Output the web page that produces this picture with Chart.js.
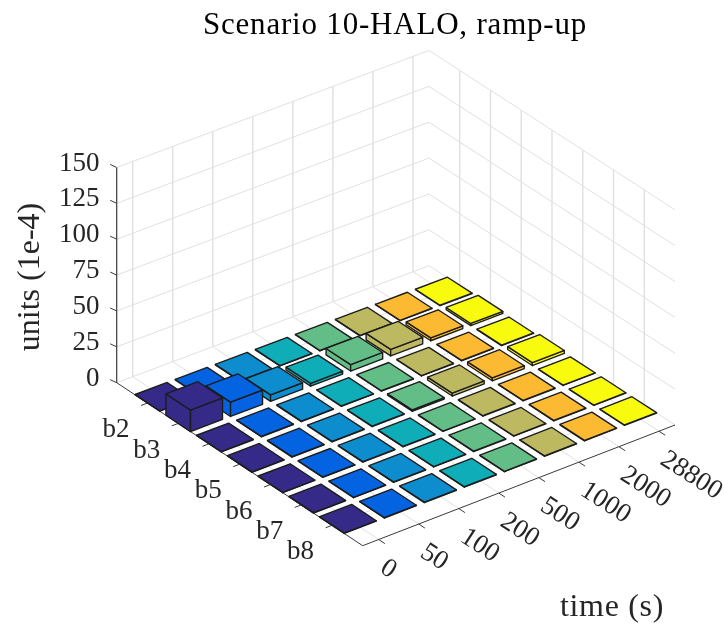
<!DOCTYPE html>
<html lang="en">
<head>
  <meta charset="UTF-8">
  <title>Scenario 10-HALO, ramp-up</title>
  <script src="https://cdn.jsdelivr.net/npm/chart.js"></script>
  <style>
    html, body { margin: 0; padding: 0; background: #ffffff; }
    canvas { display: block; }
  </style>
</head>
<body>
  <canvas id="chart" width="724" height="626"></canvas>

  <script>
  const timeLabels = ['0', '50', '100', '200', '500', '1000', '2000', '28800'];
  const binLabels = ['b2', 'b3', 'b4', 'b5', 'b6', 'b7', 'b8'];
  const unitTicks = [0, 25, 50, 75, 100, 125, 150];

  // one row per bin, one value per time
  const b2 = [0.3, 0.3, 0.3, 0.3, 0.3, 0.3, 0.3, 0.3];
  const b3 = [15, 10, 4.5, 2, 4.5, 4.5, 2, 1.5];
  const b4 = [0.3, 0.3, 0.3, 0.3, 0.3, 0.3, 0.3, 0.3];
  const b5 = [0.3, 0.3, 0.3, 0.3, 1, 2, 2, 2];
  const b6 = [0.3, 0.3, 0.3, 0.3, 0.3, 0.3, 0.3, 0.3];
  const b7 = [0.3, 0.3, 0.3, 0.3, 0.3, 0.3, 0.3, 0.3];
  const b8 = [0.3, 0.3, 0.3, 0.3, 0.3, 0.3, 0.3, 0.3];
  const rows = [b2, b3, b4, b5, b6, b7, b8];

  const timeColors = ['#352a87', '#0363e1', '#0d8cce', '#0fadb8', '#63bd87', '#bcb960', '#fcba33', '#f9fb0e'];

  // view of the 3d box, the four floor corners on the page
  const cornerLeft = [116.7, 382.7];
  const cornerBack = [429, 265.7];
  const cornerFront = [362.7, 545.7];
  const cornerRight = [675, 425];
  const unitPx = 1.435;
  const xMin = 0.6, xMax = 8.4, yMin = 1, yMax = 9, zMax = 150;

  function project(x, y, z) {
    const u = (x - xMin) / (xMax - xMin);
    const v = (y - yMin) / (yMax - yMin);
    const pick = k => (1 - u) * (1 - v) * cornerLeft[k] + (1 - u) * v * cornerFront[k]
      + u * (1 - v) * cornerBack[k] + u * v * cornerRight[k];
    return { x: pick(0), y: pick(1) - z * unitPx };
  }

  const datasets = [];

  function addLine(points, color, width) {
    datasets.push({
      data: points, showLine: true, fill: false, borderColor: color, borderWidth: width,
      pointRadius: 0, tension: 0, borderCapStyle: 'butt'
    });
  }

  function addFace(points, color) {
    datasets.push({
      data: points.concat([points[0]]), showLine: true, fill: 'shape', backgroundColor: color,
      borderColor: '#1c1c1c', borderWidth: 1.35, borderJoinStyle: 'round',
      pointRadius: 0, tension: 0
    });
  }

  const gridColor = '#e0e0e0';
  const xTicks = timeLabels.map((t, i) => i + 1);
  const yTicks = binLabels.map((b, j) => j + 2);

  // walls
  xTicks.forEach(x => addLine([project(x, yMin, 0), project(x, yMin, zMax)], gridColor, 1.4));
  yTicks.forEach(y => addLine([project(xMax, y, 0), project(xMax, y, zMax)], gridColor, 1.4));
  unitTicks.forEach(z => {
    addLine([project(xMin, yMin, z), project(xMax, yMin, z), project(xMax, yMax, z)], gridColor, 1);
  });
  // floor
  xTicks.forEach(x => addLine([project(x, yMin, 0), project(x, yMax, 0)], gridColor, 1));
  yTicks.forEach(y => addLine([project(xMin, y, 0), project(xMax, y, 0)], gridColor, 1));

  // axis lines and ticks
  const axisColor = '#3a3a3a';
  addLine([project(xMin, yMin, 0), project(xMin, yMin, zMax)], axisColor, 1.2);
  addLine([project(xMin, yMin, 0), project(xMin, yMax, 0)], axisColor, 1);
  addLine([project(xMin, yMax, 0), project(xMax, yMax, 0)], axisColor, 1);
  unitTicks.forEach(z => {
    const p = project(xMin, yMin, z);
    addLine([p, { x: p.x - 6.5, y: p.y - 3 }], axisColor, 1);
  });
  xTicks.forEach(x => addLine([project(x, yMax, 0), project(x, yMax + 0.2, 0)], axisColor, 1));
  yTicks.forEach(y => addLine([project(xMin, y, 0), project(xMin - 0.16, y, 0)], axisColor, 1));

  // bars, far ones first so the near ones cover them
  const half = 0.4;
  rows.forEach((row, j) => {
    const y = j + 2;
    for (let i = row.length - 1; i >= 0; i--) {
      const x = i + 1, h = row[i], color = timeColors[i];
      addFace([project(x - half, y - half, 0), project(x - half, y + half, 0),
               project(x - half, y + half, h), project(x - half, y - half, h)], color);
      addFace([project(x - half, y + half, 0), project(x + half, y + half, 0),
               project(x + half, y + half, h), project(x - half, y + half, h)], color);
      addFace([project(x - half, y - half, h), project(x + half, y - half, h),
               project(x + half, y + half, h), project(x - half, y + half, h)], color);
    }
  });

  // chart.js paints dataset 0 on top
  datasets.reverse();

  const labelPlugin = {
    id: 'labels3d',
    afterDatasetsDraw(chart) {
      const ctx = chart.ctx;
      ctx.save();
      ctx.textBaseline = 'middle';

      ctx.fillStyle = '#000000';
      ctx.textAlign = 'center';
      ctx.font = '31px "Liberation Serif"';
      ctx.letterSpacing = '0.8px';
      ctx.fillText('Scenario 10-HALO, ramp-up', 395, 26);
      ctx.letterSpacing = '0px';

      ctx.fillStyle = '#262626';
      ctx.font = '27px "Liberation Serif"';

      ctx.textAlign = 'right';
      unitTicks.forEach(z => {
        const p = project(xMin, yMin, z);
        ctx.fillText(String(z), 99.5, p.y - 4);
      });

      binLabels.forEach((label, j) => {
        const p = project(xMin, j + 2, 0);
        ctx.fillText(label, p.x - 18, p.y + 27);
      });

      ctx.textAlign = 'left';
      timeLabels.forEach((label, i) => {
        const p = project(i + 1, yMax, 0);
        ctx.save();
        ctx.translate(p.x + 4, p.y + 26);
        ctx.rotate(33 * Math.PI / 180);
        ctx.fillText(label, 0, 0);
        ctx.restore();
      });

      ctx.textAlign = 'center';
      ctx.font = '32px "Liberation Serif"';
      ctx.letterSpacing = '0.7px';
      ctx.fillText('time (s)', 612, 608);

      ctx.translate(31, 277);
      ctx.rotate(-Math.PI / 2);
      ctx.letterSpacing = '0px';
      ctx.fillText('units (1e-4)', 0, 0);
      ctx.restore();
    }
  };

  new Chart(document.getElementById('chart').getContext('2d'), {
    type: 'scatter',
    data: { datasets: datasets },
    options: {
      responsive: false,
      animation: false,
      events: [],
      layout: { padding: 0 },
      plugins: { legend: { display: false }, title: { display: false }, tooltip: { enabled: false } },
      scales: {
        x: { type: 'linear', display: false, min: 0, max: 724 },
        y: { type: 'linear', display: false, min: 0, max: 626, reverse: true }
      }
    },
    plugins: [labelPlugin]
  });
  </script>
</body>
</html>
